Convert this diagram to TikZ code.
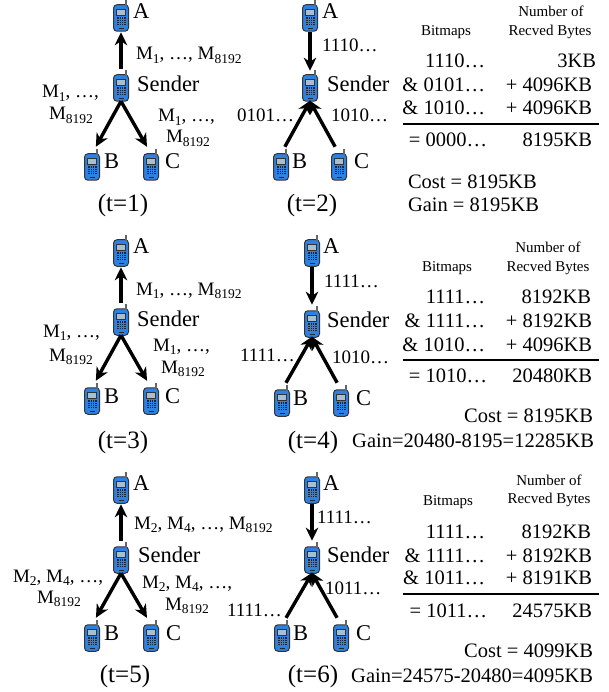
\documentclass[tikz,border=0pt]{standalone}
\usepackage{fontspec}
\setmainfont{Liberation Serif}
\usetikzlibrary{arrows.meta}
\definecolor{phblue}{RGB}{45,130,225}
\definecolor{phscreen}{RGB}{170,190,210}
\newcommand{\fpx}[1]{\fontsize{#1}{#1}\selectfont}
\newcommand{\Ms}[1]{M\raisebox{-0.2em}{\fpx{13.5}#1}}
\newcommand{\phone}[3]{%
  \node[phonebody] (#1) at (#2,#3) {};
  \begin{scope}[shift={(#1.center)}]
    \draw[line width=1.4pt,color=black!60] (5,-12) -- (5,-18);
    \draw[line width=0.8pt,fill=phscreen,draw=black!80] (-4.5,-9) rectangle (4.5,-3);
    \fill[black!85] (-4.5,-1) rectangle (4.5,8);
    \foreach \yy in {1,3,5,7}{\draw[phblue,line width=0.5pt] (-4.5,\yy) -- (4.5,\yy);}
    \foreach \xx in {-2.2,0,2.2}{\draw[phblue,line width=0.5pt] (\xx,-1) -- (\xx,8);}
    \draw[black!85,line width=1pt] (-2.5,10.5) -- (2.5,10.5);
  \end{scope}}
\tikzset{
  phonebody/.style={draw=black!80,line width=1pt,fill=phblue,rounded corners=3.5pt,minimum width=15pt,minimum height=26.5pt,inner sep=0pt,outer sep=0pt},
  big/.style={inner sep=0pt,outer sep=0pt,anchor=base west,font=\fpx{22.5}},
  mid/.style={inner sep=0pt,outer sep=0pt,anchor=base west,font=\fpx{19}},
  midr/.style={mid,anchor=base east},
  tbl/.style={inner sep=0pt,outer sep=0pt,anchor=base east,font=\fpx{20.5}},
  tbw/.style={tbl,anchor=base west},
  head/.style={inner sep=0pt,outer sep=0pt,anchor=base,font=\fpx{15}},
  tlab/.style={inner sep=0pt,outer sep=0pt,anchor=base,font=\fpx{25}},
  arr/.style={line width=3.4pt,-{Stealth[length=13pt,width=12.5pt,inset=4pt]}},
  rulel/.style={line width=1.4pt}
}
\begin{document}
\begin{tikzpicture}[x=1pt,y=-1pt]
\useasboundingbox (0,0) rectangle (608,692);
% t=1
\phone{Aa}{121}{18}\phone{Sa}{121}{88}\phone{Ba}{92}{167}\phone{Ca}{151}{167}
\draw[arr,shorten <=6pt,shorten >=1pt] (Sa.north) -- (Aa.south);
\draw[arr,shorten >=8pt] (Sa.south) -- (Ba.north);
\draw[arr,shorten >=8pt] (Sa.south) -- (Ca.north);
\node[big] (ta) at (133,19) {A};
\node[big] (tsa) at (137,92) {Sender};
\node[big] (tba) at (104,169) {B};
\node[big] (tca) at (165,169) {C};
\node[mid] (ma1) at (136,60) {\Ms{1}, …, \Ms{8192}};
\node[mid] (ma2) at (42,98) {\Ms{1}, …,};
\node[mid] (ma3) at (49,120) {\Ms{8192}};
\node[mid] (ma4) at (158,122) {\Ms{1}, …,};
\node[mid] (ma5) at (166,143) {\Ms{8192}};
\node[tlab] (tta) at (123,212) {(t=1)};
% t=2
\phone{Ab}{310}{18}\phone{Sb}{310}{88}\phone{Bb}{281}{167}\phone{Cb}{339}{167}
\draw[arr,shorten >=4pt,shorten <=1pt] (Ab.south) -- (Sb.north);
\draw[arr,shorten <=8pt,shorten >=-1pt] (Bb.north) -- (Sb.south);
\draw[arr,shorten <=8pt,shorten >=-1pt] (Cb.north) -- (Sb.south);
\node[big] (tab) at (322,19) {A};
\node[big] (tsb) at (327,92) {Sender};
\node[big] (tbb) at (292,169) {B};
\node[big] (tcb) at (354,169) {C};
\node[mid] (mb1) at (322,52) {1110…};
\node[mid] (mb2) at (237,122) {0101…};
\node[mid] (mb3) at (331,122) {1010…};
\node[tlab] (ttb) at (312,212) {(t=2)};
\node[head] (hb1) at (551,17) {Number of};
\node[head] (hb2) at (550,36) {Recved Bytes};
\node[head] (hb3) at (446,36) {Bitmaps};
\node[tbl] (rb1) at (485,68) {1110…};
\node[tbl] (rb2) at (485,92) {\& 0101…};
\node[tbl] (rb3) at (485,115) {\& 1010…};
\node[tbl] (rb4) at (487,147) {= 0000…};
\node[tbl] (vb1) at (596,68) {3KB};
\node[tbl] (vb2) at (592,92) {+ 4096KB};
\node[tbl] (vb3) at (592,115) {+ 4096KB};
\node[tbl] (vb4) at (592,147) {8195KB};
\coordinate (lb1) at (403,124);\coordinate (lb2) at (599,124);
\draw[rulel] (lb1) -- (lb2);
\node[tbw] (cb) at (408,189) {Cost = 8195KB};
\node[tbw] (gb) at (408,212) {Gain = 8195KB};
% t=3
\phone{Ac}{121}{253}\phone{Sc}{121}{322}\phone{Bc}{92}{401}\phone{Cc}{151}{401}
\draw[arr,shorten <=6pt,shorten >=1pt] (Sc.north) -- (Ac.south);
\draw[arr,shorten >=8pt] (Sc.south) -- (Bc.north);
\draw[arr,shorten >=8pt] (Sc.south) -- (Cc.north);
\node[big] (tac) at (133,254) {A};
\node[big] (tsc) at (137,326) {Sender};
\node[big] (tbc) at (104,403) {B};
\node[big] (tcc) at (165,403) {C};
\node[mid] (mc1) at (136,295) {\Ms{1}, …, \Ms{8192}};
\node[mid] (mc2) at (43,337) {\Ms{1}, …,};
\node[mid] (mc3) at (49,361) {\Ms{8192}};
\node[mid] (mc4) at (153,351) {\Ms{1}, …,};
\node[mid] (mc5) at (161,373) {\Ms{8192}};
\node[tlab] (ttc) at (123,448) {(t=3)};
% t=4
\phone{Ad}{312}{253}\phone{Sd}{312}{324}\phone{Bd}{282}{403}\phone{Cd}{341}{403}
\draw[arr,shorten >=6pt,shorten <=1pt] (Ad.south) -- (Sd.north);
\draw[arr,shorten <=8pt,shorten >=-1pt] (Bd.north) -- (Sd.south);
\draw[arr,shorten <=8pt,shorten >=-1pt] (Cd.north) -- (Sd.south);
\node[big] (tad) at (323,254) {A};
\node[big] (tsd) at (327,327) {Sender};
\node[big] (tbd) at (293,405) {B};
\node[big] (tcd) at (356,405) {C};
\node[mid] (md1) at (324,287) {1111…};
\node[mid] (md2) at (240,361) {1111…};
\node[mid] (md3) at (332,363) {1010…};
\node[tlab] (ttd) at (313,448) {(t=4)};
\node[head] (hd1) at (548,252) {Number of};
\node[head] (hd2) at (548,271) {Recved Bytes};
\node[head] (hd3) at (447,271) {Bitmaps};
\node[tbl] (rd1) at (485,303) {1111…};
\node[tbl] (rd2) at (485,327) {\& 1111…};
\node[tbl] (rd3) at (485,351) {\& 1010…};
\node[tbl] (rd4) at (487,382) {= 1010…};
\node[tbl] (vd1) at (591,303) {8192KB};
\node[tbl] (vd2) at (592,327) {+ 8192KB};
\node[tbl] (vd3) at (592,351) {+ 4096KB};
\node[tbl] (vd4) at (592,382) {20480KB};
\coordinate (ld1) at (403,360);\coordinate (ld2) at (599,360);
\draw[rulel] (ld1) -- (ld2);
\node[tbl] (cd) at (593,422) {Cost = 8195KB};
\node[tbl] (gd) at (594,447) {Gain=20480-8195=12285KB};
% t=5
\phone{Ae}{121}{490}\phone{Se}{121}{560}\phone{Be}{92}{638}\phone{Ce}{151}{638}
\draw[arr,shorten <=6pt,shorten >=1pt] (Se.north) -- (Ae.south);
\draw[arr,shorten >=8pt] (Se.south) -- (Be.north);
\draw[arr,shorten >=8pt] (Se.south) -- (Ce.north);
\node[big] (tae) at (133,490) {A};
\node[big] (tse) at (138,562) {Sender};
\node[big] (tbe) at (104,640) {B};
\node[big] (tce) at (166,640) {C};
\node[mid] (me1) at (134,529) {\Ms{2}, \Ms{4}, …, \Ms{8192}};
\node[mid] (me2) at (13,582) {\Ms{2}, \Ms{4}, …,};
\node[mid] (me3) at (37,603) {\Ms{8192}};
\node[mid] (me4) at (142,588) {\Ms{2}, \Ms{4}, …,};
\node[mid] (me5) at (165,610) {\Ms{8192}};
\node[tlab] (tte) at (125,682) {(t=5)};
% t=6
\phone{Af}{312}{490}\phone{Sf}{312}{560}\phone{Bf}{282}{638}\phone{Cf}{341}{638}
\draw[arr,shorten >=6pt,shorten <=1pt] (Af.south) -- (Sf.north);
\draw[arr,shorten <=8pt,shorten >=-1pt] (Bf.north) -- (Sf.south);
\draw[arr,shorten <=8pt,shorten >=-1pt] (Cf.north) -- (Sf.south);
\node[big] (taf) at (323,490) {A};
\node[big] (tsf) at (327,562) {Sender};
\node[big] (tbf) at (293,640) {B};
\node[big] (tcf) at (356,640) {C};
\node[mid] (mf1) at (317,523) {1111…};
\node[mid] (mf2) at (325,594) {1011…};
\node[mid] (mf3) at (227,616) {1111…};
\node[tlab] (ttf) at (313,682) {(t=6)};
\node[head] (hf1) at (549,485) {Number of};
\node[head] (hf2) at (549,503) {Recved Bytes};
\node[head] (hf3) at (448,505) {Bitmaps};
\node[tbl] (rf1) at (485,538) {1111…};
\node[tbl] (rf2) at (485,562) {\& 1111…};
\node[tbl] (rf3) at (485,584) {\& 1011…};
\node[tbl] (rf4) at (487,617) {= 1011…};
\node[tbl] (vf1) at (591,538) {8192KB};
\node[tbl] (vf2) at (592,562) {+ 8192KB};
\node[tbl] (vf3) at (592,584) {+ 8191KB};
\node[tbl] (vf4) at (592,617) {24575KB};
\coordinate (lf1) at (403,594);\coordinate (lf2) at (599,594);
\draw[rulel] (lf1) -- (lf2);
\node[tbl] (cf) at (593,657) {Cost = 4099KB};
\node[tbl] (gf) at (593,682) {Gain=24575-20480=4095KB};
\end{tikzpicture}
\end{document}
